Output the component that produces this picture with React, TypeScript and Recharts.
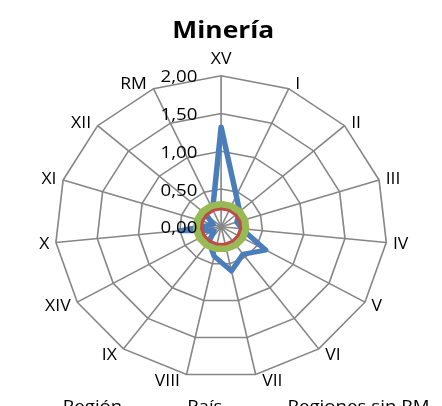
import React from 'react';
import { RadarChart, Radar, PolarGrid, PolarAngleAxis, PolarRadiusAxis, Legend } from 'recharts';

const categories = ['XV', 'I', 'II', 'III', 'IV', 'V', 'VI', 'VII', 'VIII', 'IX', 'XIV', 'X', 'XI', 'XII', 'RM'];
const regionValues = [1.32, 0.45, 0.3, 0.2, 0.25, 0.62, 0.45, 0.6, 0.4, 0.25, 0.1, 0.5, 0.1, 0.25, 0.25];
const paisValues = [0.24, 0.24, 0.24, 0.24, 0.24, 0.24, 0.24, 0.24, 0.24, 0.24, 0.24, 0.24, 0.24, 0.24, 0.24];
const sinRMValues = [0.3, 0.3, 0.3, 0.3, 0.3, 0.3, 0.3, 0.3, 0.3, 0.3, 0.3, 0.3, 0.3, 0.3, 0.3];
const radiusTicks = [0, 0.5, 1, 1.5, 2];
const title = 'Minería';
const seriesNames = ['Región', 'País', 'Regiones sin RM'];

const data = categories.map((c, i) => ({
  cat: c,
  region: regionValues[i],
  pais: paisValues[i],
  sinRM: sinRMValues[i],
}));

const FONT = '"Open Sans", sans-serif';
const TICK_SIZE = 6;

const AngleTick = (props: any) => {
  const { x, y, payload } = props;
  const a = (payload.coordinate * Math.PI) / 180;
  const ux = Math.cos(a);
  const uy = -Math.sin(a);
  const vx = x - ux * TICK_SIZE;
  const vy = y - uy * TICK_SIZE;
  let anchor = 'middle';
  let tx = vx;
  let ty = vy + uy * 6;
  if (Math.abs(ux) < 0.1) {
    ty = vy + uy * 18;
  } else if (ux > 0) {
    anchor = 'start';
    tx = vx + 6;
  } else {
    anchor = 'end';
    tx = vx - 6;
  }
  return (
    <text x={tx} y={ty} textAnchor={anchor} dominantBaseline="central" fontFamily={FONT} fontSize={16} fill="#000">
      {payload.value}
    </text>
  );
};

const RadiusTick = (props: any) => {
  const { x, y, payload } = props;
  return (
    <text x={x - 21.5} y={y} textAnchor="end" dominantBaseline="central" fontFamily={FONT} fontSize={17} fill="#000">
      {Number(payload.value).toFixed(2).replace('.', ',')}
    </text>
  );
};

const renderLegend = (props: any) => {
  const payload = [...(props.payload || [])].sort(
    (a: any, b: any) => seriesNames.indexOf(a.value) - seriesNames.indexOf(b.value)
  );
  return (
    <div style={{ display: 'flex', paddingLeft: 25, fontFamily: FONT, fontSize: 17, lineHeight: '20px', whiteSpace: 'nowrap' }}>
      {payload.map((p: any, i: number) => (
        <div key={i} style={{ display: 'flex', alignItems: 'center', marginRight: 27 }}>
          <svg width={28} height={20}>
            <line x1={0} x2={28} y1={12} y2={12} stroke={p.color} strokeWidth={3} />
          </svg>
          <span style={{ marginLeft: 4, color: '#000' }}>{p.value}</span>
        </div>
      ))}
    </div>
  );
};

export default function App() {
  return (
    <div style={{ position: 'absolute', left: 0, top: 0, width: 442, height: 406, overflow: 'hidden', background: '#fff' }}>
      <div style={{ position: 'absolute', left: 0, top: 0, width: 402, height: 430, transform: 'scaleX(1.1)', transformOrigin: '0 0' }}>
        <RadarChart width={402} height={430} data={data} cx={201} cy={226.7} outerRadius={151} margin={{ top: 0, right: 0, bottom: 0, left: 0 }}>
          <PolarGrid gridType="polygon" stroke="#868686" strokeWidth={1.5} />
          <PolarAngleAxis dataKey="cat" tick={AngleTick} tickLine={false} axisLine={false} tickSize={TICK_SIZE} />
          <PolarRadiusAxis
            angle={90}
            type="number"
            domain={[radiusTicks[0], radiusTicks[radiusTicks.length - 1]]}
            ticks={radiusTicks as any}
            tickCount={radiusTicks.length}
            interval={0}
            axisLine={false}
            tick={RadiusTick}
          />
          <Radar name={seriesNames[0]} dataKey="region" stroke="#4A7EBB" strokeWidth={5} fill="none" fillOpacity={0} strokeLinejoin="round" isAnimationActive={false} />
          <Radar name={seriesNames[1]} dataKey="pais" stroke="#BE4B48" strokeWidth={3.5} fill="none" fillOpacity={0} isAnimationActive={false} />
          <Radar name={seriesNames[2]} dataKey="sinRM" stroke="#98B954" strokeWidth={6.5} fill="none" fillOpacity={0} isAnimationActive={false} />
          <Legend content={renderLegend} itemSorter={null as any} wrapperStyle={{ position: 'absolute', left: 0, top: 396, width: 500 }} />
        </RadarChart>
        <svg width={402} height={60} style={{ position: 'absolute', left: 0, top: 0, pointerEvents: 'none' }}>
          <text x={203} y={37.7} textAnchor="middle" fontFamily={FONT} fontWeight="bold" fontSize={24} fill="#000">
            {title}
          </text>
        </svg>
      </div>
    </div>
  );
}
